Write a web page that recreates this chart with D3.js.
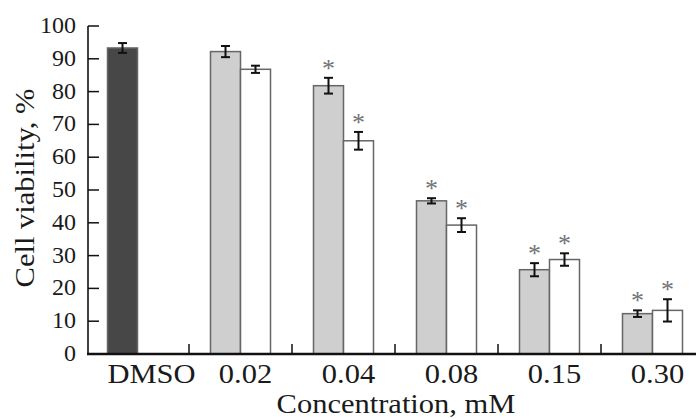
<!DOCTYPE html>
<html>
<head>
<meta charset="utf-8">
<script src="https://cdn.jsdelivr.net/npm/d3@7"></script>
<style>
  body { margin: 0; background: #fff; }
  svg { display: block; }
  text { font-family: "Liberation Serif", "Times New Roman", serif; fill: #1a1a1a; }
</style>
</head>
<body>
<div id="chart"></div>
<script>
var categories = ["DMSO", "0.02", "0.04", "0.08", "0.15", "0.30"];
var grayValues = [93.3, 92.2, 81.8, 46.7, 25.7, 12.3];
var grayErrors = [1.5, 1.7, 2.4, 0.8, 2.0, 1.0];
var graySig = [false, false, true, true, true, true];
var whiteValues = [null, 86.8, 65.0, 39.3, 28.8, 13.3];
var whiteErrors = [null, 1.1, 2.7, 2.1, 1.9, 3.4];
var whiteSig = [false, false, true, true, true, true];
var yTicks = [0, 10, 20, 30, 40, 50, 60, 70, 80, 90, 100];

var w = 696, h = 419;
var sx = 1.13; // text looks stretched horizontally in the original
var fs = 27;

var svg = d3.select("#chart").append("svg")
    .attr("width", w)
    .attr("height", h);

var x = d3.scaleBand().domain(categories).range([86, 704]);
var y = d3.scaleLinear().domain([0, 100]).range([354, 26]);
var barw = 30;

function stretchText(sel, px, py, rot) {
    sel.attr("transform", "translate(" + px + "," + py + ")" + (rot ? " rotate(" + rot + ")" : "") + " scale(" + sx + ",1)");
}

// y axis
svg.append("line")
    .attr("x1", 88).attr("x2", 88)
    .attr("y1", y(100)).attr("y2", y(0))
    .attr("stroke", "#111").attr("stroke-width", 1.6);

yTicks.forEach(function (t) {
    if (t > 0) {
        svg.append("line")
            .attr("x1", 88).attr("x2", 99)
            .attr("y1", y(t)).attr("y2", y(t))
            .attr("stroke", "#111").attr("stroke-width", 1.5);
    }
    svg.append("text")
        .attr("x", 76)
        .attr("y", y(t) + 7)
        .attr("text-anchor", "end")
        .attr("font-size", 24)
        .text(t);
});

// category separators
for (var i = 1; i < categories.length; i++) {
    var bx = x(categories[i]);
    svg.append("line")
        .attr("x1", bx).attr("x2", bx)
        .attr("y1", y(0)).attr("y2", y(0) - 10)
        .attr("stroke", "#111").attr("stroke-width", 1.5);
}

function drawBar(cx, v, e, sig, fill) {
    svg.append("rect")
        .attr("x", cx)
        .attr("y", y(v))
        .attr("width", barw)
        .attr("height", y(0) - y(v))
        .attr("fill", fill)
        .attr("stroke", "#666")
        .attr("stroke-width", 1.5);
    var mx = cx + barw / 2;
    var top = y(v + e), bot = y(v - e);
    svg.append("line")
        .attr("x1", mx).attr("x2", mx)
        .attr("y1", top).attr("y2", bot)
        .attr("stroke", "#111").attr("stroke-width", 2);
    [top, bot].forEach(function (yy) {
        svg.append("line")
            .attr("x1", mx - 4.5).attr("x2", mx + 4.5)
            .attr("y1", yy).attr("y2", yy)
            .attr("stroke", "#111").attr("stroke-width", 2);
    });
    if (sig) {
        svg.append("text")
            .attr("x", mx)
            .attr("y", top - 1)
            .attr("text-anchor", "middle")
            .attr("font-size", 26)
            .style("fill", "#6f7378")
            .text("*");
    }
}

categories.forEach(function (c, i) {
    var center = x(c) + x.bandwidth() / 2;
    drawBar(center - barw, grayValues[i], grayErrors[i], graySig[i], i == 0 ? "#474747" : "#cfcfcf");
    if (whiteValues[i] != null) {
        drawBar(center, whiteValues[i], whiteErrors[i], whiteSig[i], "#fff");
    }
    // labels sit a little right of the group centre, DMSO more so
    var dx = i == 0 ? 14 : 5;
    svg.append("text")
        .attr("text-anchor", "middle")
        .attr("font-size", fs)
        .call(stretchText, center + dx, 383)
        .text(c);
});

// x axis
svg.append("line")
    .attr("x1", 87).attr("x2", w)
    .attr("y1", y(0)).attr("y2", y(0))
    .attr("stroke", "#111").attr("stroke-width", 2.5);

svg.append("text")
    .attr("text-anchor", "middle")
    .attr("font-size", fs)
    .call(stretchText, 396, 413)
    .text("Concentration, mM");

svg.append("text")
    .attr("text-anchor", "middle")
    .attr("font-size", fs)
    .call(stretchText, 34, 188, -90)
    .text("Cell viability, %");
</script>
</body>
</html>
